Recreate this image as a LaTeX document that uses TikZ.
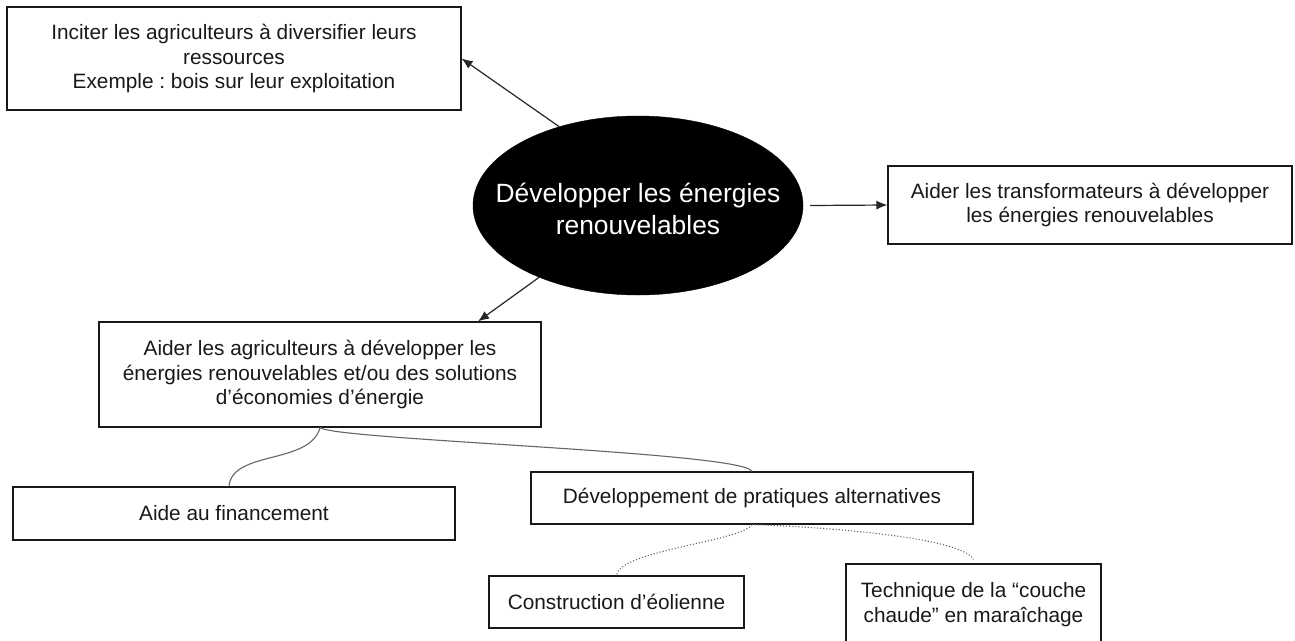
\documentclass[tikz,border=0pt]{standalone}
\usepackage{fontspec}
\setmainfont{Liberation Sans}
\frenchspacing
\usetikzlibrary{shapes.geometric,arrows.meta}
\begin{document}
\begin{tikzpicture}[x=1pt,y=-1pt,
  box/.style={draw=black!90,line width=1.2pt,rectangle,inner sep=0pt,align=center,
    font=\fontsize{20.8pt}{24.5pt}\selectfont,text=black!90},
  arr/.style={draw=black!85,line width=1.2pt,-{Latex[length=11pt,width=9pt]}},
  link/.style={draw=black!60,line width=1.1pt},
  dlink/.style={draw=black!60,line width=1.1pt,dotted}]
\useasboundingbox[fill=white] (0,0) rectangle (1295,640);
\node[box,minimum width=454pt,minimum height=103pt] (b1) at (234,58.5)
  {Inciter les agriculteurs à diversifier leurs\\ressources\\Exemple : bois sur leur exploitation};
\node[ellipse,fill=black,draw=black,inner sep=0pt,minimum width=330pt,minimum height=179pt] (ell) at (638,205.5) {};
\node[text=white,align=center,inner sep=0pt,font=\fontsize{26.4pt}{32pt}\selectfont] (elltext) at ([yshift=-3pt]ell.center)
  {Développer les énergies\\renouvelables};
\node[box,minimum width=404pt,minimum height=78pt] (b2) at (1090,205)
  {Aider les transformateurs à développer\\les énergies renouvelables};
\node[box,minimum width=442pt,minimum height=105pt] (b3) at (320,374.5)
  {Aider les agriculteurs à développer les\\énergies renouvelables et/ou des solutions\\d’économies d’énergie};
\node[box,minimum width=442pt,minimum height=53pt] (b4) at (234,513.5) {Aide au financement};
\node[box,minimum width=442pt,minimum height=52pt] (b5) at (752,498) {Développement de pratiques alternatives};
\node[box,minimum width=255pt,minimum height=52pt] (b6) at (616.5,602) {Construction d’éolienne};
\node[box,minimum width=255pt,minimum height=81pt] (b7) at (973.5,604.5)
  {Technique de la “couche\\chaude” en maraîchage};
\draw[arr] (ell.135) -- (b1.east);
\draw[arr] ([xshift=7pt]ell.east) -- (b2.west);
\draw[arr] (ell.216) -- ([xshift=158pt]b3.north);
\draw[link] (b3.south) .. controls (310,465) and (232,450) .. ([xshift=-5pt]b4.north);
\draw[link] (b3.south) .. controls (335,440) and (745,452) .. (b5.north);
\draw[dlink] (b5.south) .. controls (740,542) and (620,550) .. (b6.north);
\draw[dlink] (b5.south) .. controls (800,526) and (960,535) .. ([yshift=4pt]b7.north);
\end{tikzpicture}
\end{document}
